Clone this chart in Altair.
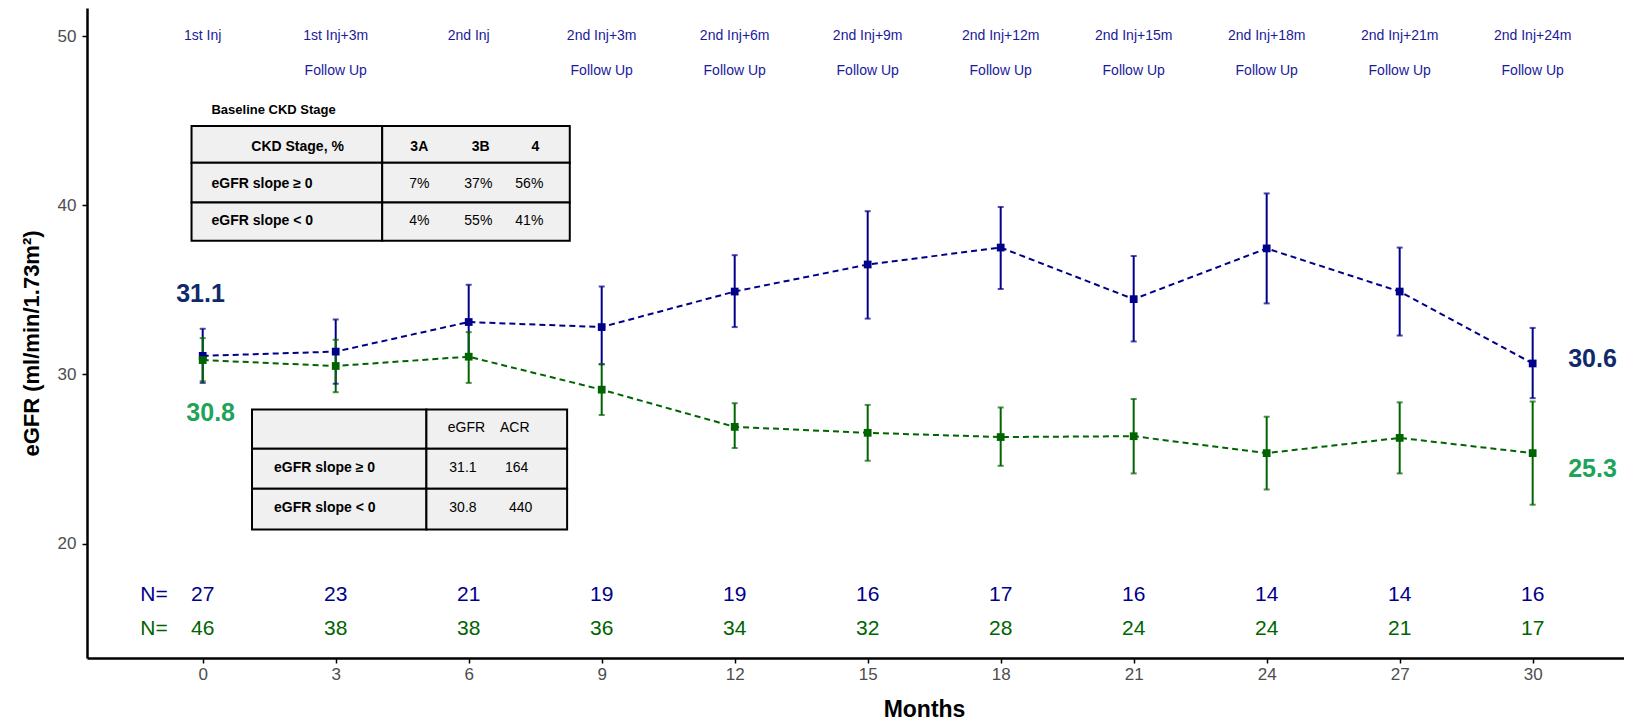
import altair as alt
import pandas as pd

# ---------------- data ----------------
months = [0, 3, 6, 9, 12, 15, 18, 21, 24, 27, 30]

pos_mean = [31.1, 31.35, 33.1, 32.8, 34.9, 36.5, 37.5, 34.45, 37.45, 34.9, 30.65]
pos_low = [29.5, 29.45, 30.95, 30.6, 32.8, 33.3, 35.05, 31.95, 34.2, 32.3, 28.6]
pos_high = [32.7, 33.25, 35.3, 35.2, 37.05, 39.65, 39.9, 37.0, 40.7, 37.5, 32.75]

neg_mean = [30.85, 30.5, 31.05, 29.1, 26.9, 26.55, 26.3, 26.35, 25.35, 26.25, 25.35]
neg_low = [29.6, 28.95, 29.5, 27.6, 25.65, 24.9, 24.6, 24.15, 23.2, 24.15, 22.3]
neg_high = [32.15, 32.05, 32.5, 30.6, 28.3, 28.2, 28.05, 28.55, 27.5, 28.35, 28.4]

n_pos = [27, 23, 21, 19, 19, 16, 17, 16, 14, 14, 16]
n_neg = [46, 38, 38, 36, 34, 32, 28, 24, 24, 21, 17]

visit_names = ["1st Inj", "1st Inj+3m", "2nd Inj", "2nd Inj+3m", "2nd Inj+6m",
               "2nd Inj+9m", "2nd Inj+12m", "2nd Inj+15m", "2nd Inj+18m",
               "2nd Inj+21m", "2nd Inj+24m"]
visit_sub = ["", "Follow Up", "", "Follow Up", "Follow Up", "Follow Up",
             "Follow Up", "Follow Up", "Follow Up", "Follow Up", "Follow Up"]

group_names = ["eGFR slope \u2265 0", "eGFR slope < 0"]
start_labels = ["31.1", "30.8"]
end_labels = ["30.6", "25.3"]

ckd_title = "Baseline CKD Stage"
ckd_header = ["CKD Stage, %", "3A", "3B", "4"]
ckd_pos = ["7%", "37%", "56%"]
ckd_neg = ["4%", "55%", "41%"]

base_header = ["eGFR", "ACR"]
base_pos = ["31.1", "164"]
base_neg = ["30.8", "440"]

# ---------------- style ----------------
FONT = "Liberation Sans"
LINE_COLORS = ["#00008B", "#006400"]
LABEL_COLORS = ["#0f2a6b", "#1fa35a"]
VISIT_COLOR = "#1a1a9c"

xs = alt.Scale(domain=[-2.61, 32.06], nice=False, zero=False)
ys = alt.Scale(domain=[13.24, 51.66], nice=False, zero=False)

x_axis = alt.Axis(values=months, title="Months", grid=False, domainColor="black",
                  domainWidth=2.5, tickColor="black", tickWidth=1.5, tickSize=5,
                  labelFont=FONT, labelFontSize=17, labelColor="#4d4d4d",
                  labelPadding=3, titleFont=FONT, titleFontSize=23,
                  titleFontWeight="bold", titleColor="black", titleX=837,
                  titleY=58, titleBaseline="alphabetic", titleAlign="center")
y_axis = alt.Axis(values=[20, 30, 40, 50], title="eGFR (ml/min/1.73m\u00b2)", grid=False,
                  domainColor="black", domainWidth=2.5, tickColor="black",
                  tickWidth=1.5, tickSize=5, labelFont=FONT, labelFontSize=17,
                  labelColor="#4d4d4d", labelPadding=6, titleFont=FONT,
                  titleFontSize=22, titleFontWeight="bold", titleColor="black",
                  titleX=-56, titleY=335, titleAngle=-90, titleAlign="center",
                  titleBaseline="middle")


def X(f):
    return alt.X(f, type="quantitative", scale=xs, axis=x_axis)


def Y(f):
    return alt.Y(f, type="quantitative", scale=ys, axis=y_axis)


color = alt.Color("group:N", scale=alt.Scale(domain=group_names, range=LINE_COLORS), legend=None)

# ---------------- series table ----------------
rows = []
for g, m_, lo_, hi_ in [(group_names[0], pos_mean, pos_low, pos_high),
                        (group_names[1], neg_mean, neg_low, neg_high)]:
    for i, mo in enumerate(months):
        rows.append({"group": g, "month": mo, "val": m_[i], "lo": lo_[i], "hi": hi_[i]})
series = pd.DataFrame(rows)

lines = alt.Chart(series).mark_line(strokeDash=[6, 4], strokeWidth=2).encode(
    x=X("month"), y=Y("val"), color=color, detail="group:N")
rules = alt.Chart(series).mark_rule(strokeWidth=2).encode(
    x=X("month"), y=Y("lo"), y2="hi", color=color)
caps_lo = alt.Chart(series).mark_tick(orient="horizontal", size=6, thickness=2).encode(
    x=X("month"), y=Y("lo"), color=color)
caps_hi = alt.Chart(series).mark_tick(orient="horizontal", size=6, thickness=2).encode(
    x=X("month"), y=Y("hi"), color=color)
squares = alt.Chart(series).mark_square(size=60, opacity=1).encode(
    x=X("month"), y=Y("val"), color=color)

# ---------------- start / end value labels ----------------
ends = pd.DataFrame({
    "month": [-0.05, 0.18, 30.8, 30.8],
    "val": [34.78, 27.73, 30.92, 24.4],
    "text": [start_labels[0], start_labels[1], end_labels[0], end_labels[1]],
    "c": [LABEL_COLORS[0], LABEL_COLORS[1], LABEL_COLORS[0], LABEL_COLORS[1]],
    "align": ["center", "center", "left", "left"],
})
end_c = alt.Chart(ends[ends["align"] == "center"]).mark_text(
    font=FONT, fontSize=25, fontWeight="bold", baseline="middle", align="center").encode(
    x=X("month"), y=Y("val"), text="text:N", color=alt.Color("c:N", scale=None))
end_l = alt.Chart(ends[ends["align"] == "left"]).mark_text(
    font=FONT, fontSize=25, fontWeight="bold", baseline="middle", align="left").encode(
    x=X("month"), y=Y("val"), text="text:N", color=alt.Color("c:N", scale=None))

# ---------------- visit labels ----------------
visits = pd.DataFrame({"month": months * 2,
                       "val": [50.0] * len(months) + [47.96] * len(months),
                       "text": visit_names + visit_sub})
visit_txt = alt.Chart(visits).mark_text(font=FONT, fontSize=14, color=VISIT_COLOR,
                                        baseline="middle", align="center").encode(
    x=X("month"), y=Y("val"), text="text:N")

# ---------------- N rows ----------------
ndf = pd.DataFrame({
    "month": [-1.1] + months + [-1.1] + months,
    "val": [16.95] * (len(months) + 1) + [14.97] * (len(months) + 1),
    "text": ["N="] + [str(v) for v in n_pos] + ["N="] + [str(v) for v in n_neg],
    "group": [group_names[0]] * (len(months) + 1) + [group_names[1]] * (len(months) + 1),
})
n_txt = alt.Chart(ndf).mark_text(font=FONT, fontSize=21, baseline="middle", align="center").encode(
    x=X("month"), y=Y("val"), text="text:N", color=color)

# ---------------- tables ----------------
t1_cols = [-0.252, 4.049, 8.28]
t1_rows = [44.69, 42.51, 40.16, 37.91]
t2_cols = [1.112, 5.046, 8.22]
t2_rows = [27.93, 25.61, 23.25, 20.84]

cells = []
for cols, rws in [(t1_cols, t1_rows), (t2_cols, t2_rows)]:
    for r in range(3):
        for c in range(2):
            cells.append({"x1": cols[c], "x2": cols[c + 1], "y1": rws[r], "y2": rws[r + 1]})
cells = pd.DataFrame(cells)
table_rects = alt.Chart(cells).mark_rect(fill="#f0f0f0", stroke="black", strokeWidth=2).encode(
    x=X("x1"), x2="x2", y=Y("y1"), y2="y2")

t_text = []
# table 1
t_text.append({"month": 0.198, "val": 45.66, "text": ckd_title, "w": "bold", "a": "left", "s": 13})
for xx, tt in zip([2.14, 4.886, 6.27, 7.505], ckd_header):
    t_text.append({"month": xx, "val": 43.44, "text": tt, "w": "bold", "a": "center", "s": 14})
for yy, lab, vals in [(41.26, group_names[0], ckd_pos), (39.07, group_names[1], ckd_neg)]:
    t_text.append({"month": 0.2, "val": yy, "text": lab, "w": "bold", "a": "left", "s": 14})
    for xx, tt in zip([4.886, 6.217, 7.368], vals):
        t_text.append({"month": xx, "val": yy, "text": tt, "w": "normal", "a": "center", "s": 14})
# table 2
for xx, tt in zip([5.95, 7.04], base_header):
    t_text.append({"month": xx, "val": 26.83, "text": tt, "w": "normal", "a": "center", "s": 14})
for yy, lab, vals, xv in [(24.47, group_names[0], base_pos, [5.87, 7.08]),
                          (22.12, group_names[1], base_neg, [5.87, 7.17])]:
    t_text.append({"month": 1.608, "val": yy, "text": lab, "w": "bold", "a": "left", "s": 14})
    for xx, tt in zip(xv, vals):
        t_text.append({"month": xx, "val": yy, "text": tt, "w": "normal", "a": "center", "s": 14})
t_text = pd.DataFrame(t_text)

text_layers = []
for (w, a, s), sub in t_text.groupby(["w", "a", "s"]):
    text_layers.append(
        alt.Chart(sub).mark_text(font=FONT, fontSize=float(s), fontWeight=w, align=a,
                                 baseline="middle", color="black").encode(
            x=X("month"), y=Y("val"), text="text:N"))

chart = alt.layer(
    table_rects, *text_layers, lines, rules, caps_lo, caps_hi, squares,
    end_c, end_l, visit_txt, n_txt
).properties(
    width=1537, height=650,
    autosize=alt.AutoSizeParams(type="none"),
    padding={"left": 79, "top": 0, "right": 0, "bottom": 62},
    background="white",
).configure_view(stroke=None)

chart.save("out.html", embed_options={"renderer": "svg", "actions": False})
